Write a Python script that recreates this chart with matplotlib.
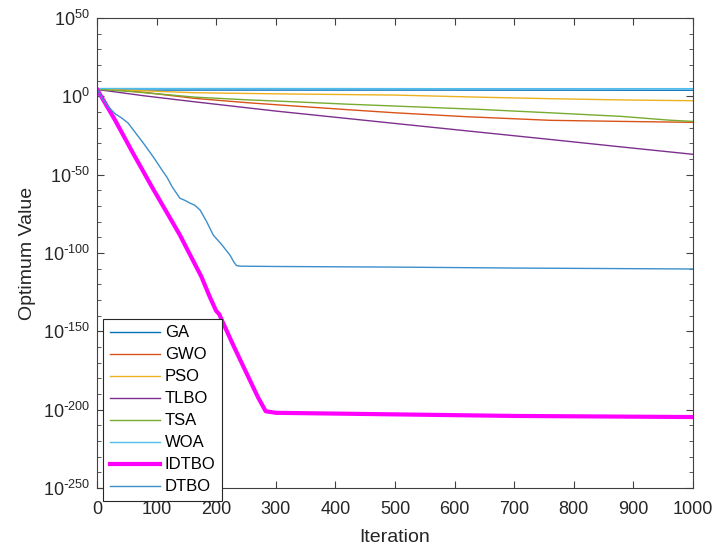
import numpy as np
import matplotlib
matplotlib.use("Agg")
import matplotlib.pyplot as plt
from matplotlib.ticker import FixedLocator, NullFormatter, FuncFormatter

plt.rcParams['font.family'] = ['Liberation Sans', 'DejaVu Sans']
plt.rcParams['mathtext.default'] = 'regular'

# iteration knots and log10(optimum value)
ga_it = [0, 20, 60, 200, 500, 1000]
ga_log = [4.5, 4.2, 4.0, 4.0, 4.0, 3.9]

gwo_it = [0, 40, 80, 164, 250, 332, 420, 500, 620, 760, 880, 1000]
gwo_log = [4.5, 3.8, 2.5, -1.3, -4.0, -6.2, -8.5, -10.5, -13.0, -15.3, -16.0, -16.6]

pso_it = [0, 60, 164, 300, 500, 650, 760, 880, 1000]
pso_log = [4.5, 3.8, 2.3, 1.6, 0.8, -0.6, -1.5, -2.3, -2.8]

tlbo_it = [0, 80, 164, 300, 500, 640, 760, 880, 1000]
tlbo_log = [4.4, 0.3, -3.5, -9.4, -17.3, -22.8, -27.5, -32.3, -37.0]

tsa_it = [0, 60, 164, 250, 332, 420, 500, 640, 760, 880, 960, 1000]
tsa_log = [4.5, 3.0, -0.5, -2.2, -3.5, -5.0, -6.2, -8.3, -10.5, -12.8, -15.2, -16.0]

woa_it = [0, 300, 600, 1000]
woa_log = [5.0, 5.0, 4.9, 4.9]

idtbo_it = [0, 30, 60, 92, 120, 139, 160, 175, 190, 200, 205, 212, 230, 250, 270, 283, 300, 500, 700, 1000]
idtbo_log = [4.5, -15, -36, -57.7, -76, -88.5, -104, -115, -128.7, -137, -139, -145, -160, -176, -192, -201, -202, -203, -204, -204.7]

dtbo_it = [0, 10, 20, 30, 42, 52, 66, 80, 95, 109, 118, 126, 139, 148, 155, 164, 173, 184, 195, 210, 223, 230, 234, 240, 300, 500, 700, 1000]
dtbo_log = [4.5, -2, -7, -11, -14, -17, -24, -31, -39, -47, -52, -57.7, -65, -66.5, -68, -69.5, -72.6, -80, -88.5, -95, -101.3, -106, -108, -108.4, -108.6, -109, -109.6, -110.2]

series = [
    ("GA", ga_it, ga_log, "#0072BD", 1.0),
    ("GWO", gwo_it, gwo_log, "#D95319", 1.0),
    ("PSO", pso_it, pso_log, "#EDB120", 1.0),
    ("TLBO", tlbo_it, tlbo_log, "#7E2F8E", 1.0),
    ("TSA", tsa_it, tsa_log, "#77AC30", 1.0),
    ("WOA", woa_it, woa_log, "#4DBEEE", 1.0),
    ("IDTBO", idtbo_it, idtbo_log, "#FF00FF", 3.0),
    ("DTBO", dtbo_it, dtbo_log, "#3B8FCC", 1.0),
]


def pow_label(v, pos):
    # MATLAB style exponent with a plain hyphen
    e = int(round(np.log10(v)))
    if e < 0:
        return r'$10^{\text{-}%d}$' % abs(e)
    return r'$10^{%d}$' % e


fig = plt.figure(figsize=(7.17, 5.49), dpi=100)
ax = fig.add_axes([0.1353, 0.1111, 0.8312, 0.8561])

for name, it, lg, color, lw in series:
    ax.plot(it, 10.0 ** np.array(lg), color=color, lw=lw, label=name)

ax.set_yscale('log')
ax.set_xlim(0, 1000)
ax.set_ylim(1e-250, 1e50)
ax.yaxis.set_major_locator(FixedLocator(10.0 ** np.arange(-250, 51, 50)))
ax.yaxis.set_minor_locator(FixedLocator(10.0 ** np.arange(-250, 51, 10)))
ax.yaxis.set_major_formatter(FuncFormatter(pow_label))
ax.yaxis.set_minor_formatter(NullFormatter())
ax.set_xticks(np.arange(0, 1001, 100))

axis_col = '#404040'
for sp in ax.spines.values():
    sp.set_color(axis_col)
    sp.set_linewidth(0.8)
ax.tick_params(which='both', direction='in', top=True, right=True,
               color=axis_col, labelsize=13, labelcolor='#262626')
ax.tick_params(axis='x', pad=9)
ax.tick_params(axis='y', pad=5)
ax.tick_params(which='major', length=5)
ax.tick_params(which='minor', length=3)

ax.set_xlabel('Iteration', fontsize=14, color='#262626', labelpad=8)
ax.set_ylabel('Optimum Value', fontsize=14, color='#262626', labelpad=5)

leg = ax.legend(loc='lower left', bbox_to_anchor=(0.010, -0.028), borderaxespad=0,
                fontsize=12, handlelength=3.0, labelspacing=0.42, handletextpad=0.3,
                borderpad=0.4, fancybox=False, framealpha=1)
leg.get_frame().set_edgecolor('#262626')
leg.get_frame().set_linewidth(0.8)

fig.savefig('out.png', dpi=100)
